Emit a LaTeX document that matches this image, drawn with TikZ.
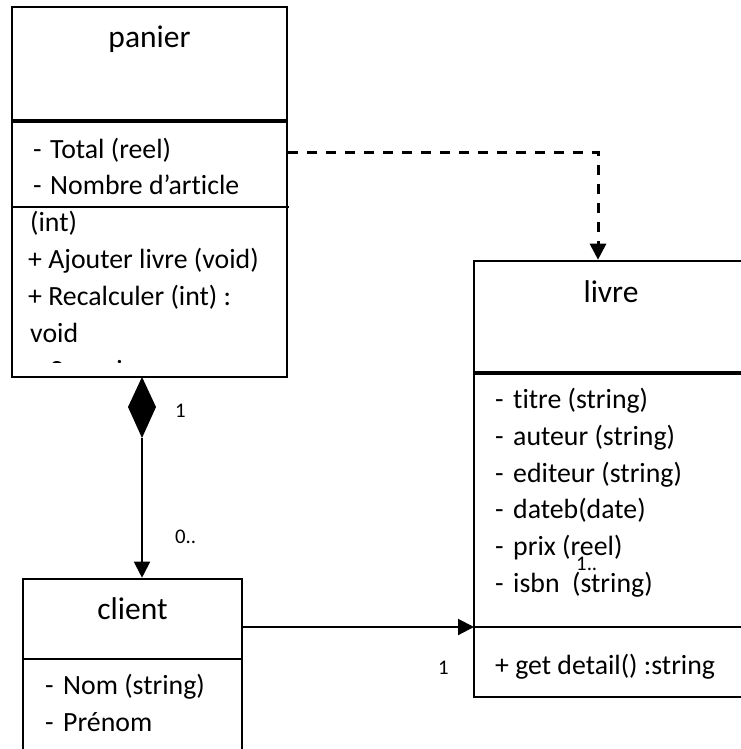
\documentclass[tikz,border=0pt]{standalone}
\usepackage{fontspec}
\setmainfont{Carlito}[Ligatures=NoCommon]
\usetikzlibrary{arrows.meta}
\begin{document}
\begin{tikzpicture}[x=1pt,y=-1pt,
  classbox/.style={draw=black, line width=2.6pt, inner sep=0pt},
  title/.style={font=\fontsize{31.5}{37}\selectfont, anchor=base, inner sep=0pt},
  item/.style={font=\fontsize{27.8}{37}\selectfont, anchor=base west, inner sep=0pt},
  mult/.style={font=\fontsize{20.8}{25}\selectfont, anchor=base west, inner sep=0pt},
  thicksep/.style={line width=3.2pt},
  thinsep/.style={line width=1.8pt},
  solidtip/.style={-{Triangle[length=16pt,width=16pt]}},
  dep/.style={solidtip, dash pattern=on 10pt off 9pt, line width=3pt},
  assoc/.style={solidtip, line width=2pt}]
\useasboundingbox (0,0) rectangle (740,749);

% class boxes
\node[classbox, minimum width=275pt, minimum height=370pt] (panier) at (149.5,192) {};
\node[classbox, minimum width=274pt, minimum height=436pt] (livre) at (611,479) {};
\node[classbox, minimum width=219pt, minimum height=211pt] (client) at (132.5,684.5) {};

% compartment separators
\draw[thicksep] (12,121) -- (287,121);
\draw[thinsep] (12,207) -- (289,207);
\draw[thicksep] (474,373) -- (748,373);
\draw[thinsep] (474,627) -- (748,627);
\draw[line width=2.2pt] (23,659) -- (242,659);

% panier
\node[title] at (149.5,48) {panier};
\begin{scope}
  \clip (12,7) rectangle (287,362);
  \node[item] at (33,158) {-};
  \node[item] at (50,158) {Total (reel)};
  \node[item] at (33,194) {-};
  \node[item] at (50,194) {Nombre d’article};
  \node[item] at (30,231) {(int)};
  \node[item] at (28,268) {+ Ajouter livre (void)};
  \node[item] at (28,305) {+ Recalculer (int) :};
  \node[item] at (30,342) {void};
  \node[item] at (33,379) {-};
  \node[item] at (50,379) {Supprimer};
\end{scope}

% livre
\node[title] at (611,302) {livre};
\foreach \yy/\txt in {408/titre (string), 445/auteur (string), 482/editeur (string),
                      518/dateb(date), 555/prix (reel), 592/isbn\ \ (string)} {
  \node[item] at (495,\yy) {-};
  \node[item] at (513,\yy) {\txt};
}
\node[item] at (495,674) {+ get detail() :string};

% client
\node[title] at (132.5,619) {client};
\node[item] at (45,694) {-};
\node[item] at (63,694) {Nom (string)};
\node[item] at (45,731) {-};
\node[item] at (63,731) {Prénom};

% dependency panier -> livre
\coordinate (bend) at (598,152);
\draw[dep] (panier.east |- bend) -- (bend) -- (livre.north -| bend);

% composition panier <>-- client
\coordinate (dtop) at (142,377);
\coordinate (dbot) at (142,438);
\fill (dtop) -- (156,407) -- (dbot) -- (128,407) -- cycle;
\draw[assoc] (dbot) -- (client.north -| dbot);

% association client -> livre
\coordinate (assocend) at (474,627);
\draw[assoc] (client.east |- assocend) -- (assocend);

% multiplicities
\node[mult] at (175,417) {1};
\node[mult] at (175,543) {0..};
\node[mult] at (438,674) {1};
\node[mult] at (576,570) {1..};
\end{tikzpicture}
\end{document}
